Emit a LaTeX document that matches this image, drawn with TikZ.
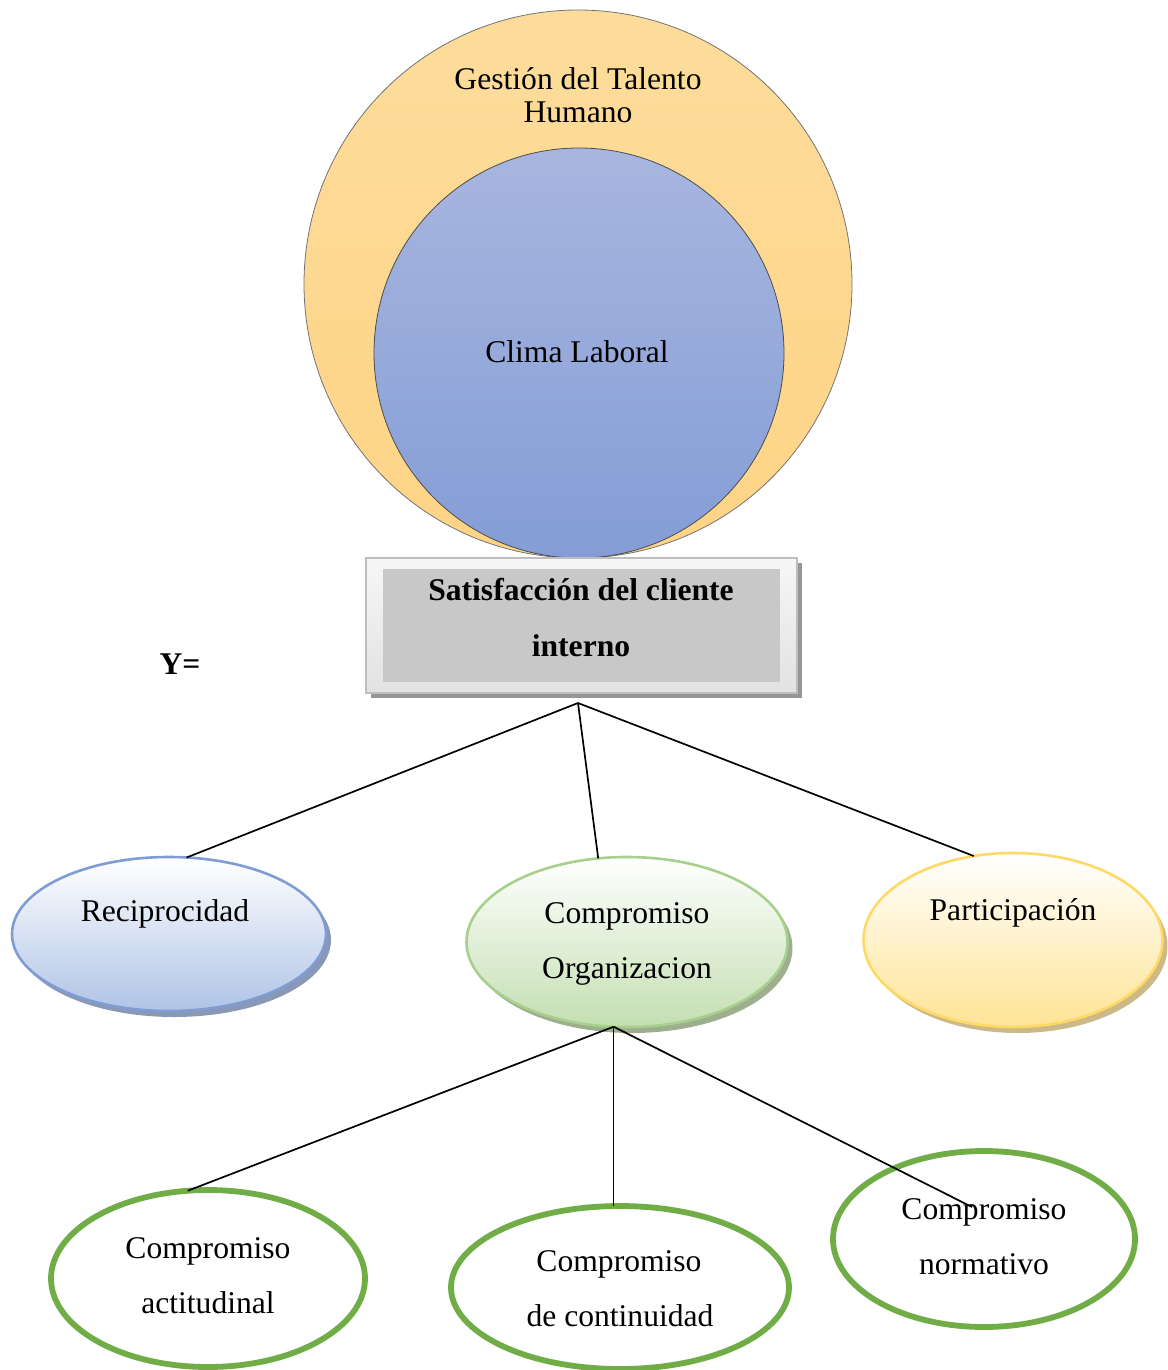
\documentclass[tikz,border=0pt]{standalone}
\usepackage{fontspec}
\setmainfont{Liberation Serif}
\usetikzlibrary{shapes.geometric}
\definecolor{orfill1}{RGB}{253,220,155}
\definecolor{orfill2}{RGB}{254,212,134}
\definecolor{blfill1}{RGB}{168,182,223}
\definecolor{blfill2}{RGB}{132,157,214}
\definecolor{recline}{RGB}{128,156,212}
\definecolor{recfill}{RGB}{176,196,230}
\definecolor{recshad}{RGB}{137,152,180}
\definecolor{orgline}{RGB}{168,208,141}
\definecolor{orgfill}{RGB}{196,223,178}
\definecolor{orgshad}{RGB}{157,175,143}
\definecolor{partline}{RGB}{255,217,102}
\definecolor{partfill}{RGB}{255,228,150}
\definecolor{partshad}{RGB}{204,185,135}
\definecolor{grn}{RGB}{112,173,71}
\definecolor{boxin}{RGB}{200,200,200}
\definecolor{boxframe}{RGB}{226,226,226}
\definecolor{boxline}{RGB}{190,190,190}
\definecolor{boxshad}{RGB}{150,150,150}
\begin{document}
\begin{tikzpicture}[x=0.5pt,y=-0.5pt,
  txt/.style={font=\fontsize{15.8pt}{19pt}\selectfont, anchor=base, inner sep=0pt},
  btxt/.style={txt, font=\fontsize{15.8pt}{19pt}\selectfont\bfseries},
  conn/.style={draw=black, line width=0.85pt},
  topell/.style={ellipse, inner sep=0pt, outer sep=0pt, line width=1.3pt},
  grnell/.style={ellipse, inner sep=0pt, outer sep=0pt, draw=grn, line width=2.9pt, fill=white},
  shad/.style={ellipse, inner sep=0pt, outer sep=0pt}]
\useasboundingbox (0,0) rectangle (1167,1370);

% circles
\node (gth) [circle, minimum size=274pt, inner sep=0pt, draw=black!55, line width=0.4pt,
  top color=orfill1, bottom color=orfill2] at (578,284) {};
\node (clima) [circle, minimum size=205pt, inner sep=0pt, draw=black!70, line width=0.4pt,
  top color=blfill1, bottom color=blfill2] at (579,353) {};
\node (tg1) [txt] at (578,90) {Gestión del Talento};
\node (tg2) [txt] at (578,123) {Humano};
\node (tcl) [txt] at (577,362) {Clima Laboral};

% box
\node (satshad) [rectangle, minimum width=215.5pt, minimum height=67.5pt, inner sep=0pt, fill=boxshad] at (586.5,630.5) {};
\node (sat) [rectangle, minimum width=215.5pt, minimum height=67.5pt, inner sep=0pt,
  draw=boxline, line width=0.8pt, top color=white!70!boxframe, bottom color=boxframe] at (581.5,625.5) {};
\node (satin) [rectangle, minimum width=198.5pt, minimum height=56.5pt, inner sep=0pt, fill=boxin] at (581.5,625.5) {};
\node (ts1) [btxt] at (581,600) {Satisfacción del cliente};
\node (ts2) [btxt] at (581,656) {interno};
\node (ty) [btxt] at (180,674) {Y=};

% first level ellipses
\node (recs) [shad, minimum width=157pt, minimum height=77pt, fill=recshad] at (174,940) {};
\node (rec) [topell, minimum width=157pt, minimum height=77pt, draw=recline,
  top color=white, bottom color=recfill] at (169,934) {};
\node (trec) [txt] at (165,921) {Reciprocidad};

\node (orgs) [shad, minimum width=160.5pt, minimum height=85pt, fill=orgshad] at (632,948) {};
\node (org) [topell, minimum width=160.5pt, minimum height=85pt, draw=orgline,
  top color=white, bottom color=orgfill] at (627,942) {};
\node (torg1) [txt] at (627,923) {Compromiso};
\node (torg2) [txt] at (627,978) {Organizacion};

\node (parts) [shad, minimum width=149.5pt, minimum height=87pt, fill=partshad] at (1018,946) {};
\node (part) [topell, minimum width=149.5pt, minimum height=87pt, draw=partline,
  top color=white, bottom color=partfill] at (1013,940) {};
\node (tpart) [txt] at (1013,920) {Participación};

% second level ellipses
\node (act) [grnell, minimum width=157pt, minimum height=88.5pt] at (208,1278.5) {};
\node (tact1) [txt] at (208,1258) {Compromiso};
\node (tact2) [txt] at (208,1313) {actitudinal};

\node (cont) [grnell, minimum width=169pt, minimum height=81.5pt] at (620,1287.5) {};
\node (tcont1) [txt] at (619,1271) {Compromiso};
\node (tcont2) [txt] at (620,1326) {de continuidad};

\node (norm) [grnell, minimum width=151pt, minimum height=88pt] at (984,1239) {};
\node (tnorm1) [txt] at (984,1219) {Compromiso};
\node (tnorm2) [txt] at (984,1274) {normativo};

% connectors
\coordinate (hubA) at (578,703);
\coordinate (normend) at (972,1207);
\draw[conn] (hubA) -- (rec.77.5);
\draw[conn] (hubA) -- (org.109.4);
\draw[conn] (hubA) -- (part.115.8);
\draw[conn] (org.261.4) -- (act.103.7);
\draw[conn] (org.261.4) -- (org.261.4 |- cont.north);
\draw[conn] (org.261.4) -- (normend);
\end{tikzpicture}
\end{document}
